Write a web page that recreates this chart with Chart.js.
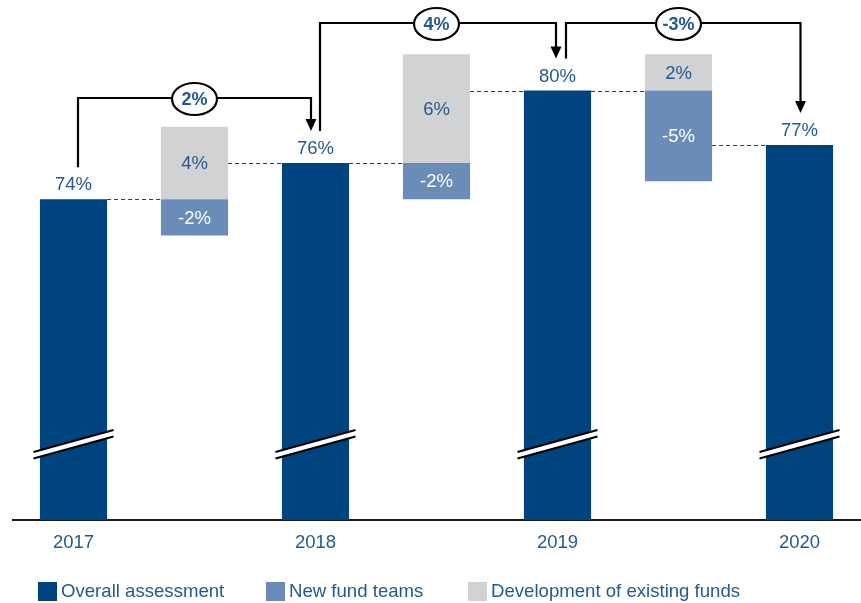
<!DOCTYPE html>
<html>
<head>
<meta charset="utf-8">
<script src="https://cdn.jsdelivr.net/npm/chart.js@4.4.1/dist/chart.umd.min.js"></script>
<style>
  html, body { margin: 0; padding: 0; background: #fff; }
  #wrap { width: 861px; height: 603px; position: relative; }
</style>
</head>
<body>
<div id="wrap"><canvas id="c" width="861" height="603"></canvas></div>
<script>
// ---- data ----
const years = ['2017', '2018', '2019', '2020'];
const overall = [74, 76, 80, 77];            // overall assessment per year (%)
const newFundTeams = [-2, -2, -5];           // effect of new fund teams between years
const developmentExisting = [4, 6, 2];       // effect of development of existing funds
const seriesNames = ['Overall assessment', 'New fund teams', 'Development of existing funds'];

// ---- styling ----
const NAVY = '#00447f';
const LIGHT = '#6a8cb6';
const GREY = '#d1d2d4';
const TEXT = '#245a92';
const FONT = '"Liberation Sans", Arial, sans-serif';
const railY = [98, 23, 23];              // height of each bracket rail
const railStart = [4.5, 4.5, 8.5];       // bracket start offset from bar centre
const railEnd = [-4.5, -1.5, 1];         // arrow offset from bar centre

// slots: year, change, year, change, ...
const labels = [];
years.forEach((y, i) => { labels.push(y); if (i < years.length - 1) labels.push(''); });

const overallData = labels.map((_, k) => k % 2 === 0 ? overall[k / 2] : null);
const newData = labels.map((_, k) => {
  if (k % 2 === 0) return null;
  const i = (k - 1) / 2;
  return [overall[i] + newFundTeams[i], overall[i]];
});
const devData = labels.map((_, k) => {
  if (k % 2 === 0) return null;
  const i = (k - 1) / 2;
  return [overall[i], overall[i] + developmentExisting[i]];
});

const fmt = v => `${v}%`;

const decorations = {
  id: 'decorations',
  afterDatasetsDraw(chart) {
    const ctx = chart.ctx;
    const ys = chart.scales.y;
    const mainBars = chart.getDatasetMeta(0).data;
    const newBars = chart.getDatasetMeta(1).data;
    const devBars = chart.getDatasetMeta(2).data;
    const bottom = chart.chartArea.bottom;
    ctx.save();

    // dashed connectors between levels
    ctx.strokeStyle = '#3a3a3a';
    ctx.lineWidth = 1;
    ctx.setLineDash([4, 3]);
    for (let i = 0; i < overall.length - 1; i++) {
      const a = mainBars[2 * i], c = devBars[2 * i + 1], b = mainBars[2 * i + 2];
      const y1 = Math.round(ys.getPixelForValue(overall[i])) + 0.5;
      const y2 = Math.round(ys.getPixelForValue(overall[i + 1])) + 0.5;
      ctx.beginPath();
      ctx.moveTo(a.x + a.width / 2, y1); ctx.lineTo(c.x - c.width / 2, y1);
      ctx.moveTo(c.x + c.width / 2, y2); ctx.lineTo(b.x - b.width / 2, y2);
      ctx.stroke();
    }
    ctx.setLineDash([]);

    // value labels above the main bars
    ctx.font = `18.5px ${FONT}`;
    ctx.fillStyle = TEXT;
    ctx.textAlign = 'center';
    ctx.textBaseline = 'alphabetic';
    overall.forEach((v, i) => {
      const bar = mainBars[2 * i];
      ctx.fillText(fmt(v), bar.x, bar.y - 9);
    });

    // labels inside the change bars
    ctx.textBaseline = 'middle';
    for (let i = 0; i < developmentExisting.length; i++) {
      const d = devBars[2 * i + 1], n = newBars[2 * i + 1];
      ctx.fillStyle = TEXT;
      ctx.fillText(fmt(developmentExisting[i]), d.x, (d.y + d.base) / 2 + 1);
      ctx.fillStyle = '#ffffff';
      ctx.fillText(fmt(newFundTeams[i]), n.x, (n.y + n.base) / 2 + 1);
    }

    // axis-break marks on the main bars
    overall.forEach((v, i) => {
      const bar = mainBars[2 * i];
      const x0 = bar.x - 40, x1 = bar.x + 40;
      const yl = bottom - 68, yr = bottom - 90;
      ctx.fillStyle = '#ffffff';
      ctx.beginPath();
      ctx.moveTo(x0, yl); ctx.lineTo(x1, yr); ctx.lineTo(x1, yr + 6.5); ctx.lineTo(x0, yl + 6.5);
      ctx.closePath(); ctx.fill();
      ctx.strokeStyle = '#000';
      ctx.lineWidth = 2;
      ctx.beginPath();
      ctx.moveTo(x0, yl); ctx.lineTo(x1, yr);
      ctx.moveTo(x0, yl + 6.5); ctx.lineTo(x1, yr + 6.5);
      ctx.stroke();
    });

    // change brackets with arrows
    for (let i = 0; i < overall.length - 1; i++) {
      const a = mainBars[2 * i], b = mainBars[2 * i + 2], mid = devBars[2 * i + 1];
      const sx = a.x + railStart[i], ex = b.x + railEnd[i];
      const sy = a.y - 32, tip = b.y - 32;
      const ry = railY[i];
      ctx.strokeStyle = '#000';
      ctx.lineWidth = 2.2;
      ctx.lineJoin = 'miter';
      ctx.beginPath();
      ctx.moveTo(sx, sy); ctx.lineTo(sx, ry); ctx.lineTo(ex, ry); ctx.lineTo(ex, tip - 11);
      ctx.stroke();
      ctx.fillStyle = '#000';
      ctx.beginPath();
      ctx.moveTo(ex - 5.5, tip - 12); ctx.lineTo(ex + 5.5, tip - 12); ctx.lineTo(ex, tip);
      ctx.closePath(); ctx.fill();

      ctx.fillStyle = '#fff';
      ctx.beginPath();
      ctx.ellipse(mid.x, ry + 1, 22.5, 16, 0, 0, Math.PI * 2);
      ctx.fill(); ctx.stroke();
      ctx.fillStyle = TEXT;
      ctx.font = `bold 18px ${FONT}`;
      ctx.textBaseline = 'middle';
      ctx.fillText(fmt(overall[i + 1] - overall[i]), mid.x, ry + 2);
    }

    ctx.restore();
  },
  afterDraw(chart) {
    // legend along the bottom
    const ctx = chart.ctx;
    const colors = [NAVY, LIGHT, GREY];
    const xs = [38, 266, 468];
    ctx.save();
    ctx.font = `18.6px ${FONT}`;
    ctx.textAlign = 'left';
    ctx.textBaseline = 'alphabetic';
    seriesNames.forEach((name, i) => {
      ctx.fillStyle = colors[i];
      ctx.fillRect(xs[i], 582, 19, 19);
      ctx.fillStyle = TEXT;
      ctx.fillText(name, xs[i] + 23, 597);
    });
    ctx.restore();
  }
};

const barCommon = { grouped: false, categoryPercentage: 0.555, barPercentage: 1, borderWidth: 0 };

new Chart(document.getElementById('c').getContext('2d'), {
  type: 'bar',
  data: {
    labels,
    datasets: [
      Object.assign({ label: seriesNames[0], data: overallData, backgroundColor: NAVY }, barCommon),
      Object.assign({ label: seriesNames[1], data: newData, backgroundColor: LIGHT }, barCommon),
      Object.assign({ label: seriesNames[2], data: devData, backgroundColor: GREY }, barCommon)
    ]
  },
  options: {
    responsive: false,
    animation: false,
    layout: { padding: { left: 13, right: 1, top: 0, bottom: 0 } },
    plugins: { legend: { display: false }, tooltip: { enabled: false } },
    scales: {
      x: {
        grid: { display: false, drawTicks: false },
        border: { color: '#1a1a1a', width: 2 },
        ticks: { color: TEXT, font: { family: FONT, size: 18.5 }, padding: 12, autoSkip: false, maxRotation: 0 },
        afterFit(scale) { scale.height = 83; }
      },
      y: { display: false, min: 56.3, max: 85 }
    }
  },
  plugins: [decorations]
});
</script>
</body>
</html>
